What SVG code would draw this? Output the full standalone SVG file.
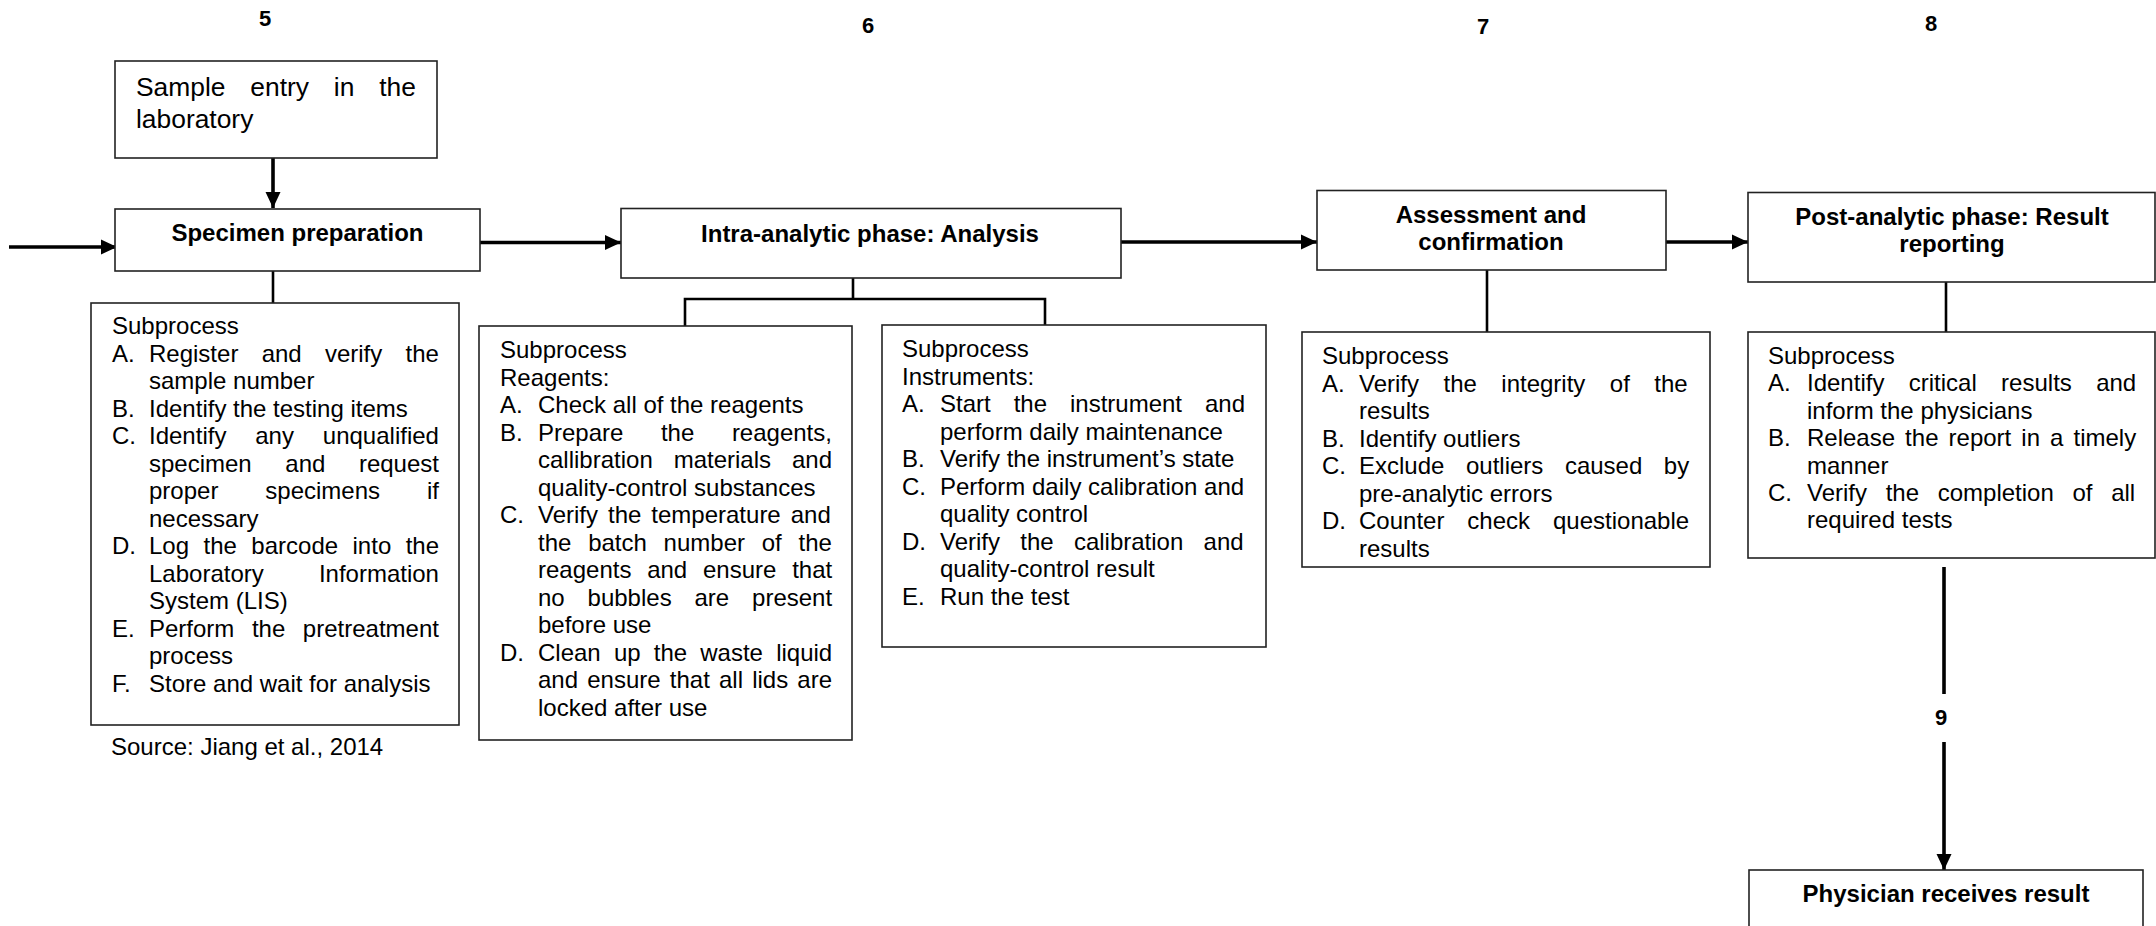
<svg xmlns="http://www.w3.org/2000/svg" width="2156" height="926" viewBox="0 0 2156 926">
<style>
.bg{fill:#fff}
.box{fill:#fff;stroke:#222;stroke-width:1.6}
.t{font-family:"Liberation Sans",Arial,sans-serif;font-size:24px;fill:#000}
.s{font-family:"Liberation Sans",Arial,sans-serif;font-size:26.4px;fill:#000}
.h{font-family:"Liberation Sans",Arial,sans-serif;font-size:24px;font-weight:bold;fill:#000;text-anchor:middle}
.n{font-family:"Liberation Sans",Arial,sans-serif;font-size:22px;font-weight:bold;fill:#000;text-anchor:middle}
.ln{fill:none;stroke:#000;stroke-width:2.6}
.ar{fill:none;stroke:#000;stroke-width:3.6}
</style>
<defs>
<marker id="ah" markerUnits="userSpaceOnUse" markerWidth="18" markerHeight="16" refX="16" refY="8" orient="auto">
<path d="M0,0.5 L16,8 L0,15.5 Z" fill="#000"/>
</marker>
</defs>
<rect class="bg" x="0" y="0" width="2156" height="926"/>

<g id="labels">
<text class="n" x="265" y="26">5</text>
<text class="n" x="868" y="33">6</text>
<text class="n" x="1483" y="34">7</text>
<text class="n" x="1931" y="31">8</text>
<text class="n" x="1941" y="725">9</text>
</g>

<g id="connectors">
<line class="ar" x1="9" y1="247" x2="117" y2="247" marker-end="url(#ah)"/>
<line class="ar" x1="273" y1="158" x2="273" y2="208" marker-end="url(#ah)"/>
<line class="ar" x1="480" y1="242.5" x2="621" y2="242.5" marker-end="url(#ah)"/>
<line class="ln" x1="273" y1="271" x2="273" y2="303"/>
<polyline class="ln" points="685,326 685,299 1045,299 1045,325"/>
<line class="ln" x1="853" y1="278" x2="853" y2="299"/>
<line class="ar" x1="1121" y1="242" x2="1317" y2="242" marker-end="url(#ah)"/>
<line class="ln" x1="1487" y1="270" x2="1487" y2="332"/>
<line class="ar" x1="1666" y1="242" x2="1748" y2="242" marker-end="url(#ah)"/>
<line class="ln" x1="1946" y1="282" x2="1946" y2="332"/>
<line class="ar" x1="1944" y1="567" x2="1944" y2="694"/>
<line class="ar" x1="1944" y1="742" x2="1944" y2="870" marker-end="url(#ah)"/>
</g>

<g id="sample-entry">
<rect class="box" x="115" y="61" width="322" height="97"/>
<text class="s" x="136" y="96" word-spacing="17.5">Sample entry in the</text>
<text class="s" x="136" y="128">laboratory</text>
</g>

<g id="specimen-preparation">
<rect class="box" x="115" y="209" width="365" height="62"/>
<text class="h" x="297.5" y="241">Specimen preparation</text>
</g>

<g id="specimen-subprocess">
<rect class="box" x="91" y="303" width="368" height="422"/>
<text class="t" x="112" y="334">Subprocess</text>
<text class="t" x="112" y="361.5">A.</text>
<text class="t" x="149" y="361.5" word-spacing="16.6">Register and verify the</text>
<text class="t" x="149" y="389">sample number</text>
<text class="t" x="112" y="416.5">B.</text>
<text class="t" x="149" y="416.5">Identify the testing items</text>
<text class="t" x="112" y="444">C.</text>
<text class="t" x="149" y="444" word-spacing="22.2">Identify any unqualified</text>
<text class="t" x="149" y="471.5" word-spacing="26.9">specimen and request</text>
<text class="t" x="149" y="499" word-spacing="40.3">proper specimens if</text>
<text class="t" x="149" y="526.5">necessary</text>
<text class="t" x="112" y="554">D.</text>
<text class="t" x="149" y="554" word-spacing="7.8">Log the barcode into the</text>
<text class="t" x="149" y="581.5" word-spacing="48.5">Laboratory Information</text>
<text class="t" x="149" y="609">System (LIS)</text>
<text class="t" x="112" y="636.5">E.</text>
<text class="t" x="149" y="636.5" word-spacing="10.9">Perform the pretreatment</text>
<text class="t" x="149" y="664">process</text>
<text class="t" x="112" y="691.5">F.</text>
<text class="t" x="149" y="691.5">Store and wait for analysis</text>
</g>

<g id="source">
<text class="t" x="111" y="755">Source: Jiang et al., 2014</text>
</g>

<g id="intra-analytic">
<rect class="box" x="621" y="208.5" width="500" height="69.5"/>
<text class="h" x="870" y="241.7">Intra-analytic phase: Analysis</text>
</g>

<g id="reagents-subprocess">
<rect class="box" x="479" y="326" width="373" height="414"/>
<text class="t" x="500" y="358">Subprocess</text>
<text class="t" x="500" y="385.5">Reagents:</text>
<text class="t" x="500" y="413">A.</text>
<text class="t" x="538" y="413">Check all of the reagents</text>
<text class="t" x="500" y="440.5">B.</text>
<text class="t" x="538" y="440.5" word-spacing="30.9">Prepare the reagents,</text>
<text class="t" x="538" y="468" word-spacing="14.3">callibration materials and</text>
<text class="t" x="538" y="495.5">quality-control substances</text>
<text class="t" x="500" y="523">C.</text>
<text class="t" x="538" y="523" word-spacing="3.3">Verify the temperature and</text>
<text class="t" x="538" y="550.5" word-spacing="10.1">the batch number of the</text>
<text class="t" x="538" y="578" word-spacing="9.1">reagents and ensure that</text>
<text class="t" x="538" y="605.5" word-spacing="16.2">no bubbles are present</text>
<text class="t" x="538" y="633">before use</text>
<text class="t" x="500" y="660.5">D.</text>
<text class="t" x="538" y="660.5" word-spacing="6.5">Clean up the waste liquid</text>
<text class="t" x="538" y="688" word-spacing="2.5">and ensure that all lids are</text>
<text class="t" x="538" y="715.5">locked after use</text>
</g>

<g id="instruments-subprocess">
<rect class="box" x="882" y="325" width="384" height="322"/>
<text class="t" x="902" y="357.3">Subprocess</text>
<text class="t" x="902" y="384.8">Instruments:</text>
<text class="t" x="902" y="412.3">A.</text>
<text class="t" x="940" y="412.3" word-spacing="16.3">Start the instrument and</text>
<text class="t" x="940" y="439.8">perform daily maintenance</text>
<text class="t" x="902" y="467.3">B.</text>
<text class="t" x="940" y="467.3">Verify the instrument’s state</text>
<text class="t" x="902" y="494.8">C.</text>
<text class="t" x="940" y="494.8">Perform daily calibration and</text>
<text class="t" x="940" y="522.3">quality control</text>
<text class="t" x="902" y="549.8">D.</text>
<text class="t" x="940" y="549.8" word-spacing="13.6">Verify the calibration and</text>
<text class="t" x="940" y="577.3">quality-control result</text>
<text class="t" x="902" y="604.8">E.</text>
<text class="t" x="940" y="604.8">Run the test</text>
</g>

<g id="assessment">
<rect class="box" x="1317" y="190.5" width="349" height="79.5"/>
<text class="h" x="1491" y="223">Assessment and</text>
<text class="h" x="1491" y="250">confirmation</text>
</g>

<g id="assessment-subprocess">
<rect class="box" x="1302" y="332" width="408" height="235"/>
<text class="t" x="1322" y="364">Subprocess</text>
<text class="t" x="1322" y="391.5">A.</text>
<text class="t" x="1359" y="391.5" word-spacing="17.8">Verify the integrity of the</text>
<text class="t" x="1359" y="419">results</text>
<text class="t" x="1322" y="446.5">B.</text>
<text class="t" x="1359" y="446.5">Identify outliers</text>
<text class="t" x="1322" y="474">C.</text>
<text class="t" x="1359" y="474" word-spacing="14.9">Exclude outliers caused by</text>
<text class="t" x="1359" y="501.5">pre-analytic errors</text>
<text class="t" x="1322" y="529">D.</text>
<text class="t" x="1359" y="529" word-spacing="16.3">Counter check questionable</text>
<text class="t" x="1359" y="556.5">results</text>
</g>

<g id="post-analytic">
<rect class="box" x="1748" y="192.5" width="407" height="89.5"/>
<text class="h" x="1952" y="225">Post-analytic phase: Result</text>
<text class="h" x="1952" y="251.6">reporting</text>
</g>

<g id="post-subprocess">
<rect class="box" x="1748" y="332" width="407" height="226"/>
<text class="t" x="1768" y="364">Subprocess</text>
<text class="t" x="1768" y="391.4">A.</text>
<text class="t" x="1807" y="391.4" word-spacing="17.7">Identify critical results and</text>
<text class="t" x="1807" y="418.8">inform the physicians</text>
<text class="t" x="1768" y="446.2">B.</text>
<text class="t" x="1807" y="446.2" word-spacing="3.4">Release the report in a timely</text>
<text class="t" x="1807" y="473.6">manner</text>
<text class="t" x="1768" y="501">C.</text>
<text class="t" x="1807" y="501" word-spacing="12">Verify the completion of all</text>
<text class="t" x="1807" y="528.4">required tests</text>
</g>

<g id="physician">
<rect class="box" x="1749" y="870" width="394" height="80"/>
<text class="h" x="1946" y="901.7">Physician receives result</text>
</g>
</svg>
